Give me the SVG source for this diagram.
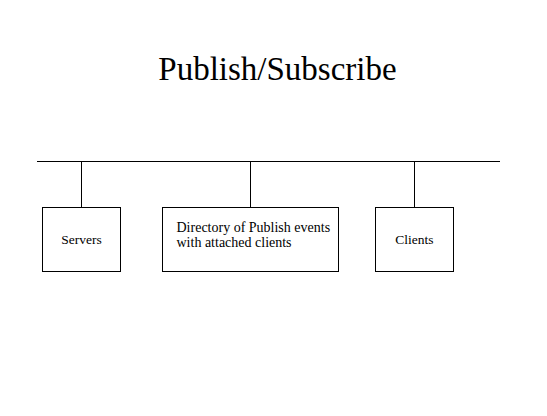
<svg xmlns="http://www.w3.org/2000/svg" width="547" height="416" viewBox="0 0 547 416">
<style>
.box{fill:#fff;stroke:#000;stroke-width:1}
.ln{stroke:#000;stroke-width:1;fill:none}
.t{font-family:"Liberation Serif","Times New Roman",serif;font-size:13.5px;fill:#000}
.d{font-size:14px}
.title{font-family:"Liberation Serif","Times New Roman",serif;font-size:33px;fill:#000}
</style>
<rect width="547" height="416" fill="#fff"/>
<text class="title" x="277.5" y="80" text-anchor="middle">Publish/Subscribe</text>
<g id="connectors">
<line class="ln" x1="37" y1="161.5" x2="500" y2="161.5"/>
<line class="ln" x1="81.5" y1="161.5" x2="81.5" y2="207.5"/>
<line class="ln" x1="250.5" y1="161.5" x2="250.5" y2="207.5"/>
<line class="ln" x1="414.5" y1="161.5" x2="414.5" y2="207.5"/>
</g>
<g id="servers">
<rect class="box" x="42.5" y="207.5" width="78" height="64"/>
<text class="t" x="81.5" y="244" text-anchor="middle">Servers</text>
</g>
<g id="directory">
<rect class="box" x="162.5" y="207.5" width="176" height="64"/>
<text class="t d" x="176.5" y="231.5">Directory of Publish events</text>
<text class="t d" x="176.5" y="247">with attached clients</text>
</g>
<g id="clients">
<rect class="box" x="375.5" y="207.5" width="78" height="64"/>
<text class="t" x="414.5" y="244" text-anchor="middle">Clients</text>
</g>
</svg>
